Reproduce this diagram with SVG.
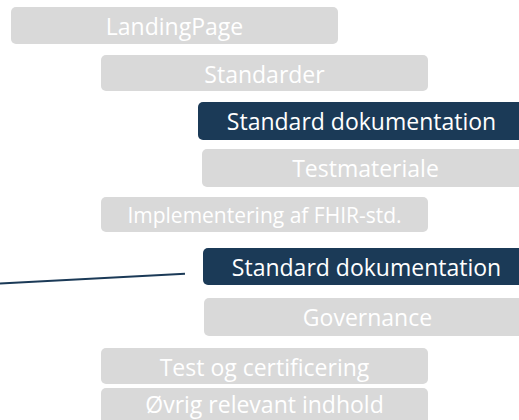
<svg xmlns="http://www.w3.org/2000/svg" width="519" height="420" viewBox="0 0 519 420">
  <style>
    .box { fill: #d9d9d9; }
    .box.active { fill: #1b3a57; }
    text { font-family: "Open Sans", "DejaVu Sans", sans-serif; font-size: 23px; fill: #ffffff; text-anchor: middle; }
    .small { font-size: 21px; }
    .link { stroke: #1b3a57; stroke-width: 2; fill: none; }
  </style>

  <!-- Navigation tree: level 1 -->
  <g id="landingpage">
    <rect class="box" x="11" y="7" width="327" height="37" rx="5"/>
    <text x="174.5" y="35">LandingPage</text>
  </g>

  <!-- Level 2 -->
  <g id="standarder">
    <rect class="box" x="101" y="55" width="327" height="36" rx="5"/>
    <text x="264.5" y="82.5">Standarder</text>
  </g>

  <!-- Level 3 under Standarder -->
  <g id="standard-dokumentation-1">
    <rect class="box active" x="198" y="102" width="327" height="38" rx="5"/>
    <text x="361.5" y="129.5">Standard dokumentation</text>
  </g>

  <g id="testmateriale">
    <rect class="box" x="202" y="149" width="327" height="38" rx="5"/>
    <text x="365.5" y="176.5">Testmateriale</text>
  </g>

  <!-- Level 2 -->
  <g id="implementering">
    <rect class="box" x="101" y="197" width="327" height="35" rx="5"/>
    <text class="small" x="264.5" y="223">Implementering af FHIR-std.</text>
  </g>

  <!-- Level 3 under Implementering -->
  <g id="standard-dokumentation-2">
    <rect class="box active" x="203" y="248" width="327" height="37" rx="5"/>
    <text x="366.5" y="275.5">Standard dokumentation</text>
  </g>

  <g id="governance">
    <rect class="box" x="204" y="298" width="327" height="38" rx="5"/>
    <text x="367.5" y="325.5">Governance</text>
  </g>

  <!-- Level 2 -->
  <g id="test-og-certificering">
    <rect class="box" x="101" y="348" width="327" height="36" rx="5"/>
    <text x="264.5" y="375.5">Test og certificering</text>
  </g>

  <g id="oevrigt-indhold">
    <rect class="box" x="101" y="388" width="327" height="40" rx="5"/>
    <text x="264.5" y="413">Øvrig relevant indhold</text>
  </g>

  <!-- Pointer line towards the second documentation entry -->
  <g id="connectors">
    <line class="link" x1="0" y1="283.5" x2="185" y2="273.8"/>
  </g>
</svg>
